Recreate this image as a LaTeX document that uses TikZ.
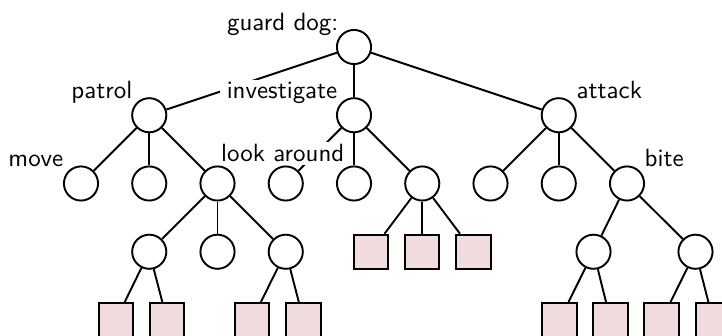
\documentclass[tikz,border=0pt]{standalone}
\usepackage{fontspec}
\definecolor{leafpink}{RGB}{240,220,220}
\pgfdeclarelayer{edges}
\pgfdeclarelayer{labels}
\pgfsetlayers{edges,labels,main}
\tikzset{
  tnode/.style={circle, draw=black, fill=white, line width=0.8pt, minimum size=0.5cm, inner sep=0pt},
  leaf/.style={rectangle, draw=black, fill=leafpink, line width=0.8pt, minimum size=0.5cm, inner sep=0pt},
  lbl/.style={font=\fontsize{10.4pt}{12pt}\sffamily, fill=white, inner xsep=3pt, inner ysep=1pt},
  link/.style={line width=0.8pt},
}
\begin{document}
\begin{tikzpicture}[x={(0.014652cm,0)}, y={(0,-0.014652cm)}]
  \useasboundingbox (0,0) rectangle (722,336);

  % inner nodes
  \node[tnode] (r)  at (354,47) {};
  \node[tnode] (p)  at (149.25,115.25) {};
  \node[tnode] (iv) at (354,115.25) {};
  \node[tnode] (at) at (558.75,115.25) {};

  \node[tnode] (p1) at (81,183.5) {};
  \node[tnode] (p2) at (149.25,183.5) {};
  \node[tnode] (p3) at (217.5,183.5) {};
  \node[tnode] (i1) at (285.75,183.5) {};
  \node[tnode] (i2) at (354,183.5) {};
  \node[tnode] (i3) at (422.25,183.5) {};
  \node[tnode] (a1) at (490.5,183.5) {};
  \node[tnode] (a2) at (558.75,183.5) {};
  \node[tnode] (a3) at (627,183.5) {};

  \node[tnode] (p31) at (149.25,251.75) {};
  \node[tnode] (p32) at (217.5,251.75) {};
  \node[tnode] (p33) at (285.75,251.75) {};
  \node[leaf]  (i31) at (371,251.75) {};
  \node[leaf]  (i32) at (422.25,251.75) {};
  \node[leaf]  (i33) at (473.5,251.75) {};
  \node[tnode] (a31) at (593.5,251.75) {};
  \node[tnode] (a32) at (695.5,251.75) {};

  % leaves of the bottom row
  \node[leaf] (p311) at (116,320) {};
  \node[leaf] (p312) at (167,320) {};
  \node[leaf] (p331) at (252,320) {};
  \node[leaf] (p332) at (303.5,320) {};
  \node[leaf] (a311) at (559.5,320) {};
  \node[leaf] (a312) at (610.5,320) {};
  \node[leaf] (a321) at (661.5,320) {};
  \node[leaf] (a322) at (713,320) {};

  % connectors
  \begin{pgfonlayer}{edges}
    \foreach \u/\v in {r/p, r/iv, r/at,
                       p/p1, p/p2, p/p3, iv/i1, iv/i2, iv/i3, at/a1, at/a2, at/a3,
                       p3/p31, p3/p32, p3/p33, i3/i31, i3/i32, i3/i33, a3/a31, a3/a32,
                       p31/p311, p31/p312, p33/p331, p33/p332,
                       a31/a311, a31/a312, a32/a321, a32/a322}
      \draw[link] (\u) -- (\v);
  \end{pgfonlayer}

  % labels
  \begin{pgfonlayer}{labels}
    \node[lbl, anchor=base east] (lguard) at (346,31)  {guard dog:};
    \node[lbl, anchor=base east] (linv)   at (345,99)  {investigate};
    \node[lbl, anchor=base east] (lpat)   at (140,99)  {patrol};
    \node[lbl, anchor=base west] (latt)   at (569,99)  {attack};
    \node[lbl, anchor=base east] (lmove)  at (71,167)  {move};
    \node[lbl, anchor=base east] (llook)  at (352,162) {look around};
    \node[lbl, anchor=base west] (lbite)  at (637,167) {bite};
  \end{pgfonlayer}
\end{tikzpicture}
\end{document}
